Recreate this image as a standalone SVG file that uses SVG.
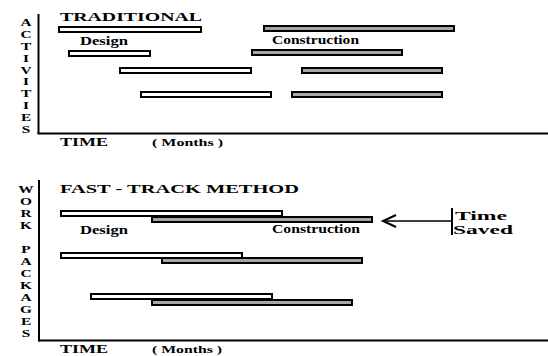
<svg xmlns="http://www.w3.org/2000/svg" width="548" height="356" viewBox="0 0 548 356">
<style>
text{font-family:"Liberation Serif","Times New Roman",serif;font-weight:bold;fill:#000}
.d{fill:#fff;stroke:#000;stroke-width:2}
.c{fill:#a6a6a6;stroke:#000;stroke-width:2}
.ax{stroke:#000;stroke-width:2;fill:none}
.v{font-size:10.6px;text-anchor:middle}
.t{font-size:13px}
.l{font-size:11.5px}
.m{font-size:11px}
.s{font-size:12.6px}
</style>
<rect width="548" height="356" fill="#fff"/>

<g id="axes-traditional">
<line class="ax" x1="38.5" y1="14" x2="38.5" y2="134"/>
<line class="ax" x1="37.5" y1="133.5" x2="548" y2="133.5"/>
</g>
<g id="axes-fasttrack">
<line class="ax" x1="39" y1="180" x2="39" y2="341.5"/>
<line class="ax" x1="38" y1="340.5" x2="548" y2="340.5"/>
</g>

<g id="label-activities" transform="translate(26,0) scale(1.45,1)">
<text class="v" x="0" y="26.5">A</text>
<text class="v" x="0" y="38.3">C</text>
<text class="v" x="0" y="50.1">T</text>
<text class="v" x="0" y="61.9">I</text>
<text class="v" x="0" y="73.7">V</text>
<text class="v" x="0" y="85.5">I</text>
<text class="v" x="0" y="97.3">T</text>
<text class="v" x="0" y="109.1">I</text>
<text class="v" x="0" y="120.9">E</text>
<text class="v" x="0" y="132.7">S</text>
</g>
<g id="label-workpackages" transform="translate(26,0) scale(1.45,1)">
<text class="v" x="0" y="193">W</text>
<text class="v" x="0" y="205">O</text>
<text class="v" x="0" y="217">R</text>
<text class="v" x="0" y="229">K</text>
<text class="v" x="0" y="253">P</text>
<text class="v" x="0" y="265">A</text>
<text class="v" x="0" y="277">C</text>
<text class="v" x="0" y="289">K</text>
<text class="v" x="0" y="301">A</text>
<text class="v" x="0" y="313">G</text>
<text class="v" x="0" y="325">E</text>
<text class="v" x="0" y="337">S</text>
</g>

<g id="title-traditional"><text class="t" x="60" y="21" textLength="142" lengthAdjust="spacingAndGlyphs">TRADITIONAL</text></g>
<g id="title-fasttrack"><text class="t" x="60" y="193" textLength="239" lengthAdjust="spacingAndGlyphs">FAST - TRACK METHOD</text></g>

<g id="trad-design-1"><rect class="d" x="59" y="27" width="142" height="5"/></g>
<g id="trad-construction-1"><rect class="c" x="264" y="26" width="190" height="5"/></g>
<g id="trad-design-2"><rect class="d" x="69" y="51" width="81" height="5"/></g>
<g id="trad-construction-2"><rect class="c" x="252" y="50" width="150" height="5"/></g>
<g id="trad-design-3"><rect class="d" x="120" y="68" width="131" height="5"/></g>
<g id="trad-construction-3"><rect class="c" x="302" y="68" width="140" height="5"/></g>
<g id="trad-design-4"><rect class="d" x="141" y="92" width="130" height="5"/></g>
<g id="trad-construction-4"><rect class="c" x="292" y="92" width="150" height="5"/></g>
<g id="trad-labels">
<text class="l" x="80" y="45" textLength="48" lengthAdjust="spacingAndGlyphs">Design</text>
<text class="l" x="272" y="44" textLength="87" lengthAdjust="spacingAndGlyphs">Construction</text>
</g>

<g id="ft-design-1"><rect class="d" x="61" y="211" width="221" height="5"/></g>
<g id="ft-construction-1"><rect class="c" x="152" y="217" width="220" height="5"/></g>
<g id="ft-design-2"><rect class="d" x="61" y="253" width="181" height="5"/></g>
<g id="ft-construction-2"><rect class="c" x="162" y="258" width="200" height="5"/></g>
<g id="ft-design-3"><rect class="d" x="91" y="294" width="181" height="5"/></g>
<g id="ft-construction-3"><rect class="c" x="152" y="300" width="200" height="5"/></g>
<g id="ft-labels">
<text class="l" x="80" y="234" textLength="48" lengthAdjust="spacingAndGlyphs">Design</text>
<text class="l" x="272" y="233" textLength="88" lengthAdjust="spacingAndGlyphs">Construction</text>
</g>

<g id="time-saved">
<line x1="452" y1="208" x2="452" y2="235" stroke="#000" stroke-width="2"/>
<text class="s" x="455" y="219.5" textLength="52" lengthAdjust="spacingAndGlyphs">Time</text>
<text class="s" x="453" y="233.5" textLength="60" lengthAdjust="spacingAndGlyphs">Saved</text>
</g>

<g id="connectors">
<line x1="384" y1="221" x2="452" y2="221" stroke="#000" stroke-width="1.5"/>
<polyline points="396,215 383,221 396,227" fill="none" stroke="#000" stroke-width="2"/>
</g>

<g id="time-axis-labels">
<text class="t" x="60" y="146" textLength="48" lengthAdjust="spacingAndGlyphs">TIME</text>
<text class="m" x="152" y="146" textLength="71" lengthAdjust="spacingAndGlyphs">( Months )</text>
<text class="t" x="60" y="353" textLength="48" lengthAdjust="spacingAndGlyphs">TIME</text>
<text class="m" x="152" y="353" textLength="70" lengthAdjust="spacingAndGlyphs">( Months )</text>
</g>
</svg>
